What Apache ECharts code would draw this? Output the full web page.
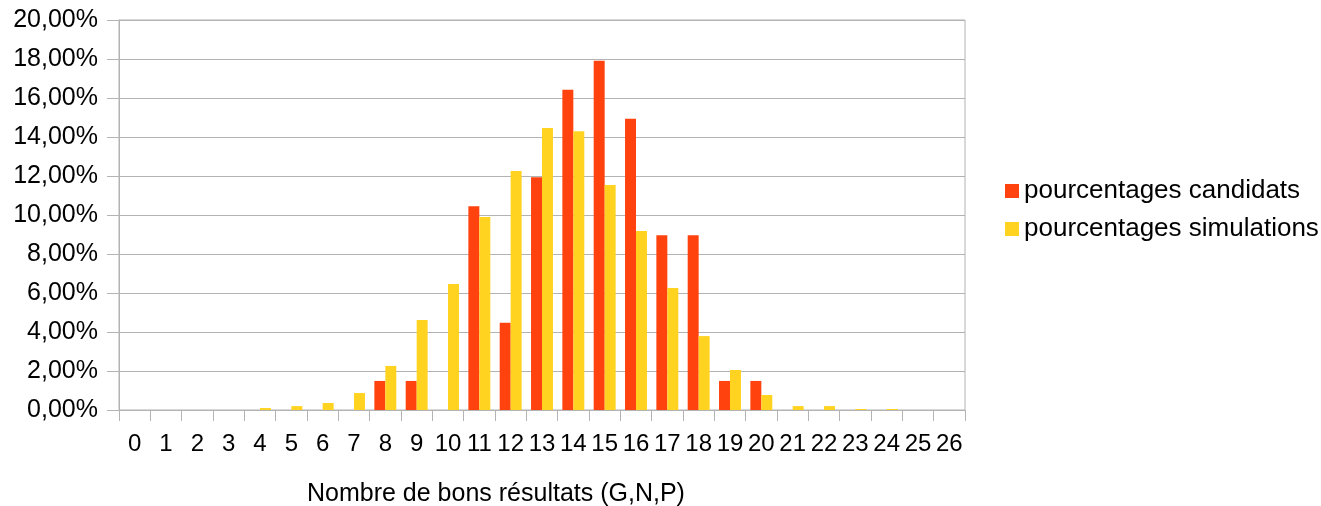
<!DOCTYPE html>
<html><head><meta charset="utf-8">
<script src="https://cdn.jsdelivr.net/npm/echarts@6/dist/echarts.min.js"></script>
<style>html,body{margin:0;padding:0;background:#fff}#c{width:1321px;height:506px}</style>
</head><body><div id="c"></div>
<script>
var categories = ['0','1','2','3','4','5','6','7','8','9','10','11','12','13','14','15','16','17','18','19','20','21','22','23','24','25','26'];
var candidats = [0,0,0,0,0,0,0,0,1.49,1.49,0,10.45,4.48,11.94,16.42,17.91,14.93,8.96,8.96,1.49,1.49,0,0,0,0,0,0];
var simulations = [0,0,0,0,0.1,0.2,0.36,0.87,2.26,4.62,6.46,9.9,12.26,14.46,14.3,11.54,9.18,6.26,3.79,2.05,0.77,0.2,0.2,0.05,0.05,0,0];
var seriesNames = ['pourcentages candidats','pourcentages simulations'];
var axisTitle = 'Nombre de bons résultats (G,N,P)';

var FONT = '"Liberation Sans", Arial, sans-serif';
var chart = echarts.init(document.getElementById('c'), null, {renderer:'canvas'});
chart.setOption({
  animation:false,
  textStyle:{fontFamily:FONT},
  grid:{left:119,right:356,top:20,bottom:96,show:true,borderColor:'#b3b3b3',borderWidth:1,containLabel:false},
  legend:{orient:'vertical',left:1000,top:173,itemWidth:14,itemHeight:14,itemGap:12,icon:'rect',
    textStyle:{fontSize:26,color:'#000',fontFamily:FONT},data:seriesNames},
  xAxis:{type:'category',data:categories,
    axisLine:{lineStyle:{color:'#b3b3b3',width:1}},
    axisTick:{show:true,length:11,lineStyle:{color:'#b3b3b3'}},
    axisLabel:{fontSize:24,color:'#000',margin:22,interval:0,fontFamily:FONT},
    splitLine:{show:false}},
  yAxis:{type:'value',min:0,max:20,interval:2,
    axisLine:{show:true,lineStyle:{color:'#b3b3b3'}},
    axisTick:{show:true,length:12,lineStyle:{color:'#b3b3b3'}},
    axisLabel:{fontSize:25,color:'#000',margin:21,fontFamily:FONT,
      formatter:function(v){return v.toFixed(2).replace('.',',')+'%';}},
    splitLine:{lineStyle:{color:'#b3b3b3',width:1}}},
  graphic:[{type:'text',left:307,top:482,style:{text:axisTitle,fontSize:25,fill:'#000',fontFamily:FONT}}],
  series:[
    {name:seriesNames[0],type:'bar',data:candidats,barGap:'0%',barCategoryGap:'30%',itemStyle:{color:'#ff420e'}},
    {name:seriesNames[1],type:'bar',data:simulations,barGap:'0%',barCategoryGap:'30%',itemStyle:{color:'#ffd320'}}
  ]
});
</script></body></html>
